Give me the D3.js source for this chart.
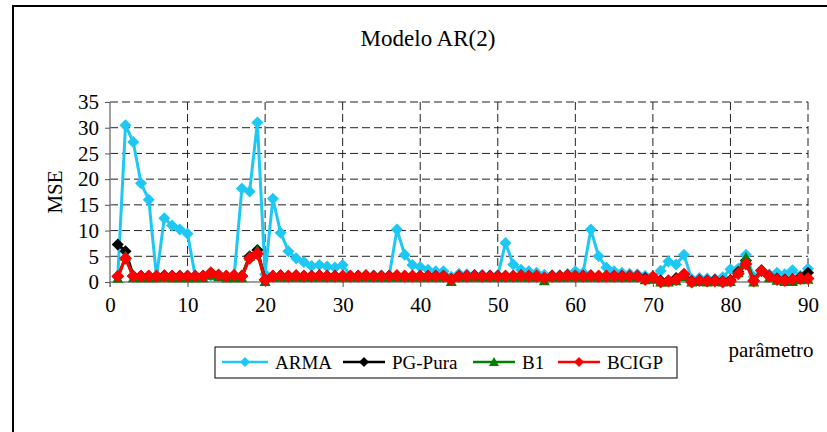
<!DOCTYPE html>
<html>
<head>
<meta charset="utf-8">
<script src="https://cdn.jsdelivr.net/npm/d3@7"></script>
<style>
body{margin:0;background:#fff;}
svg text{font-family:"Liberation Serif","Times New Roman",Times,"DejaVu Serif",serif !important;fill:#000;}
</style>
</head>
<body>
<svg id="chart" width="827" height="432"></svg>
<script>
// parameter values 1..90
var params = [1,2,3,4,5,6,7,8,9,10,11,12,13,14,15,16,17,18,19,20,21,22,23,24,25,26,27,28,29,30,
  31,32,33,34,35,36,37,38,39,40,41,42,43,44,45,46,47,48,49,50,51,52,53,54,55,56,57,58,59,60,
  61,62,63,64,65,66,67,68,69,70,71,72,73,74,75,76,77,78,79,80,81,82,83,84,85,86,87,88,89,90];

var arma = [1.0,30.5,27.2,19.2,16.0,1.0,12.4,11.0,10.2,9.4,1.0,1.0,1.2,1.0,1.0,1.0,18.2,17.6,31.0,1.5,
  16.2,9.6,6.0,4.6,3.9,3.1,3.3,3.0,2.8,3.3,1.2,1.2,1.2,1.2,1.2,1.2,10.2,5.3,3.3,2.9,
  2.4,2.1,2.1,1.0,1.6,1.5,1.4,1.4,1.3,1.3,7.6,3.4,2.4,2.1,1.8,1.4,1.3,1.3,1.6,2.1,
  1.8,10.2,5.0,2.8,2.1,1.8,1.6,1.5,1.2,0.9,2.2,4.0,3.4,5.3,0.6,0.8,0.7,0.6,0.9,2.5,
  2.6,5.3,1.0,2.3,1.5,1.8,1.5,2.3,1.2,2.6];

var pgPura = [7.3,6.0,1.2,1.2,1.2,1.2,1.3,1.2,1.2,1.2,1.2,1.2,1.8,1.4,1.2,1.2,1.2,5.0,6.2,0.5,
  1.2,1.3,1.2,1.3,1.2,1.2,1.3,1.2,1.2,1.2,1.2,1.2,1.3,1.2,1.2,1.2,1.3,1.2,1.2,1.2,
  1.2,1.2,1.2,0.6,1.2,1.2,1.3,1.2,1.2,1.2,1.2,1.2,1.3,1.2,1.2,0.8,1.2,1.2,1.3,1.2,
  1.2,1.3,1.2,1.2,1.2,1.2,1.2,1.2,0.8,1.0,0.3,0.3,0.8,1.5,0.2,0.4,0.3,0.4,0.2,0.4,
  2.0,4.2,0.3,2.3,1.2,0.7,0.5,0.6,0.9,1.8];

var b1 = [0.7,5.0,0.8,0.8,0.8,0.8,0.9,0.8,0.8,0.8,0.8,0.8,1.3,1.0,0.8,0.8,0.8,5.0,6.2,0.1,
  0.9,0.9,0.9,0.9,0.9,0.9,0.9,0.9,0.9,0.9,0.9,0.9,0.9,0.9,0.9,0.9,0.9,0.9,0.9,0.9,
  0.9,0.9,0.9,0.1,0.9,0.9,0.9,0.9,0.9,0.9,0.9,0.9,0.9,0.9,0.9,0.2,0.9,0.9,0.9,0.9,
  0.9,0.9,0.9,0.9,0.9,0.9,0.9,0.9,0.4,0.5,0.0,0.0,0.2,1.0,0.0,0.1,0.0,0.1,0.0,0.1,
  1.8,4.8,0.0,2.0,0.8,0.3,0.1,0.1,0.4,0.5];

var bcigp = [1.1,4.6,1.1,1.1,1.1,1.1,1.1,1.1,1.1,1.1,1.1,1.1,1.8,1.3,1.1,1.3,1.1,4.6,5.5,0.4,
  1.1,1.2,1.1,1.2,1.1,1.1,1.2,1.1,1.1,1.1,1.1,1.1,1.2,1.1,1.1,1.1,1.2,1.1,1.1,1.1,
  1.1,1.1,1.1,0.5,1.1,1.1,1.2,1.1,1.1,1.1,1.1,1.1,1.2,1.1,1.1,0.8,1.1,1.1,1.2,1.1,
  1.1,1.2,1.1,1.1,1.1,1.1,1.1,1.1,0.5,1.0,0.0,0.2,0.5,1.5,0.0,0.3,0.2,0.2,0.0,0.2,
  1.6,3.5,0.2,2.2,1.1,0.5,0.3,0.5,0.7,0.7];

var seriesNames = ['ARMA','PG-Pura','B1','BCIGP'];
var seriesColors = ['#1ec8f5','#000000','#008000','#ff0000'];
var seriesShapes = ['diamond','diamond','triangle','diamond'];
var xTicks = [0,10,20,30,40,50,60,70,80,90];
var yTicks = [0,5,10,15,20,25,30,35];

var serifFont = '"Liberation Serif","Times New Roman",Times,"DejaVu Serif",serif';
var svg = d3.select('#chart').attr('font-family',serifFont);

// outer frame (runs off the right and bottom edges)
svg.append('rect')
  .attr('x',13).attr('y',6).attr('width',830).attr('height',440)
  .attr('fill','none').attr('stroke','#000').attr('stroke-width',2);

var x = d3.scaleLinear().domain([0,90]).range([110,808]);
var y = d3.scaleLinear().domain([0,35]).range([282,102]);

// dashed grid
svg.append('g').selectAll('line.gx')
  .data(xTicks.slice(1)).enter().append('line')
  .attr('x1',d=>x(d)).attr('x2',d=>x(d))
  .attr('y1',y(35)).attr('y2',y(0))
  .attr('stroke','#222').attr('stroke-dasharray','8,4');
svg.append('g').selectAll('line.gy')
  .data(yTicks.slice(1)).enter().append('line')
  .attr('x1',x(0)).attr('x2',x(90))
  .attr('y1',d=>y(d)).attr('y2',d=>y(d))
  .attr('stroke','#222').attr('stroke-dasharray','8,4');

// axes
var xAxis = svg.append('g').attr('transform','translate(0,'+y(0)+')')
  .call(d3.axisBottom(x).tickValues(xTicks).tickSize(5).tickPadding(10));
var yAxis = svg.append('g').attr('transform','translate('+x(0)+',0)')
  .call(d3.axisLeft(y).tickValues(yTicks).tickSize(5).tickPadding(6));
[xAxis,yAxis].forEach(function(a){
  a.attr('font-family',serifFont).attr('font-size',21);
  a.select('.domain').attr('stroke','#808080').attr('stroke-width',1.5);
  a.selectAll('.tick line').attr('stroke','#555');
  a.selectAll('.tick text').attr('fill','#000');
});
xAxis.select('.domain').attr('d','M'+x(0)+',0H'+x(90));
yAxis.select('.domain').attr('d','M0,'+y(35)+'V'+(y(0)+5));

// series
var allData = [arma,pgPura,b1,bcigp];
var line = d3.line().x((d,i)=>x(params[i])).y(d=>y(d));
function shapePath(kind, cx, cy, r){
  if(kind==='triangle'){
    return 'M'+cx+','+(cy-r)+'L'+(cx+r)+','+(cy+r*0.8)+'L'+(cx-r)+','+(cy+r*0.8)+'Z';
  }
  return 'M'+cx+','+(cy-r)+'L'+(cx+r)+','+cy+'L'+cx+','+(cy+r)+'L'+(cx-r)+','+cy+'Z';
}
var sizes = [6,6,5.5,6.5];
allData.forEach(function(vals,k){
  var g = svg.append('g');
  g.append('path').datum(vals).attr('d',line)
    .attr('fill','none').attr('stroke',seriesColors[k]).attr('stroke-width',3)
    .attr('stroke-linejoin','round');
  g.selectAll('path.m').data(vals).enter().append('path')
    .attr('d',(d,i)=>shapePath(seriesShapes[k],x(params[i]),y(d),sizes[k]))
    .attr('fill',seriesColors[k]);
});

// labels
svg.append('text').attr('x',428).attr('y',46).attr('text-anchor','middle')
  .attr('font-size',23).text('Modelo AR(2)');
svg.append('text').attr('transform','translate(62,192) rotate(-90)').attr('text-anchor','middle')
  .attr('font-size',21).text('MSE');
svg.append('text').attr('x',771).attr('y',357).attr('text-anchor','middle')
  .attr('font-size',21).text('parâmetro');

// legend
var legend = svg.append('g');
legend.append('rect').attr('x',215).attr('y',347).attr('width',462).attr('height',31)
  .attr('fill','#fff').attr('stroke','#000').attr('stroke-width',1);
var legX = [222,343,473,558];
var legW = [46,42,42,42];
seriesNames.forEach(function(name,k){
  var lg = legend.append('g');
  lg.append('line').attr('x1',legX[k]).attr('x2',legX[k]+legW[k]).attr('y1',362).attr('y2',362)
    .attr('stroke',seriesColors[k]).attr('stroke-width',2.5);
  lg.append('path').attr('d',shapePath(seriesShapes[k],legX[k]+legW[k]/2,362,5)).attr('fill',seriesColors[k]);
  lg.append('text').attr('x',legX[k]+legW[k]+7).attr('y',369).attr('font-size',19).text(name);
});
</script>
</body>
</html>
